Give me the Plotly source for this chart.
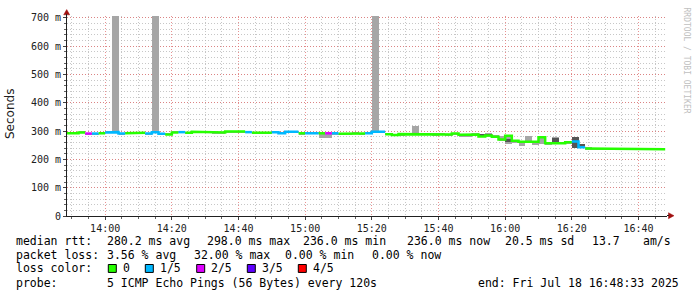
import plotly.graph_objects as go
import pandas as pd

# ---------------- data ----------------
graph_start = "2025-07-18 13:48:33"
graph_end = "2025-07-18 16:48:33"
slot_minutes = 2
slot_starts = pd.date_range("2025-07-18 13:48:00", periods=90, freq="2min")

median_ms = [292, 292, 295, 291, 291, 292, 295, 296, 291, 292,
             292, 294, 291, 296, 290, 288, 295, 296, 294, 297,
             297, 295, 295, 295, 298, 298, 298, 296, 294, 294,
             294, 296, 292, 297, 297, 292, 292, 292, 292, 292,
             292, 290, 290, 292, 291, 292, 297, 297, 289, 286,
             289, 289, 290, 290, 290, 290, 290, 288, 291, 287,
             287, 288, 281, 284, 280, 270, 283, 266, 262, 262,
             262, 278, 257, 257, 257, 260, 263, 243, 238, 238,
             236, 236, 237, 237, 236, 236, 236, 236, 236, 236]

loss_count = [0, 0, 0, 2, 1, 0, 1, 1, 1, 0,
              0, 0, 1, 1, 1, 0, 0, 1, 0, 0,
              0, 0, 0, 0, 0, 0, 0, 1, 0, 0,
              0, 1, 1, 1, 1, 0, 1, 1, 0, 2,
              1, 0, 0, 0, 0, 1, 1, 1, 0, 0,
              0, 0, 0, 0, 0, 0, 0, 0, 0, 0,
              0, 0, 0, 0, 0, 0, 0, 0, 0, 0,
              0, 0, 0, 0, 0, 0, 1, 1, 0, 0,
              0, 0, 0, 0, 0, 0, 0, 0, 0, 0]

smoke_lo = [290, 290, 293, 289, 289, 290, 293, 293, 289, 290,
            290, 292, 289, 293, 288, 286, 293, 294, 292, 295,
            295, 293, 291, 292, 296, 296, 296, 294, 290, 292,
            292, 294, 290, 295, 295, 289, 290, 290, 277, 276,
            289, 288, 288, 290, 289, 290, 294, 294, 287, 284,
            284, 287, 287, 288, 288, 285, 288, 284, 289, 279,
            278, 284, 278, 280, 277, 264, 253, 257, 246, 258,
            251, 255, 254, 254, 254, 255, 242, 240, 235, 236,
            235, 235, 236, 236, 235, 235, 235, 235, 235, 235]

smoke_hi = [294, 294, 297, 293, 293, 294, 297, 706, 293, 294,
            294, 296, 293, 706, 292, 290, 297, 298, 296, 299,
            299, 297, 297, 297, 300, 300, 300, 298, 296, 296,
            296, 298, 294, 299, 299, 294, 294, 294, 294, 294,
            294, 292, 292, 294, 293, 294, 706, 299, 291, 289,
            293, 291, 316, 292, 292, 292, 292, 290, 293, 290,
            290, 294, 286, 293, 287, 282, 286, 270, 266, 282,
            265, 281, 261, 278, 262, 264, 280, 252, 242, 241,
            237, 237, 238, 238, 237, 237, 237, 237, 237, 237]

core_lo = {62: 285, 63: 285, 66: 261, 73: 263, 76: 241, 77: 243}
core_hi = {62: 291, 63: 291, 66: 271, 73: 275, 76: 279, 77: 253}

loss_colors = ["#26ff00", "#00b8ff", "#dd00ff", "#5e00ff", "#ff0000"]
loss_labels = ["0", "1/5", "2/5", "3/5", "4/5"]

y_tickvals = [0, 100, 200, 300, 400, 500, 600, 700]
y_ticktext = ["0", "100 m", "200 m", "300 m", "400 m", "500 m", "600 m", "700 m"]

legend_line1 = [("median rtt:", 16), ("280.2 ms avg", 107.3), ("298.0 ms max", 207.3),
                ("236.0 ms min", 303.3), ("236.0 ms now", 406.7), ("20.5 ms sd", 505),
                ("13.7", 591.7), ("am/s", 643)]
legend_line2 = [("packet loss:", 16), ("3.56 % avg", 107.3), ("32.00 % max", 194),
                ("0.00 % min", 285), ("0.00 % now", 371.7)]
legend_line4 = [("probe:", 16), ("5 ICMP Echo Pings (56 Bytes) every 120s", 107.3),
                ("end: Fri Jul 18 16:48:33 2025", 478.3)]

# ---------------- layout helpers ----------------
W, H = 697, 297
PL, PR, PT, PB = 67, 667, 14, 216


def px(x):
    return (x - PL) / (PR - PL)


def py(y):
    return (PB - y) / (PB - PT)


half = pd.Timedelta(minutes=slot_minutes) / 2
centers = [t + half for t in slot_starts]
step = pd.Timedelta(minutes=slot_minutes)

fig = go.Figure()

# light smoke
fig.add_trace(go.Bar(
    x=centers, base=smoke_lo, y=[h - l for h, l in zip(smoke_hi, smoke_lo)],
    width=step.total_seconds() * 1000, marker=dict(color="#a6a6a6", line=dict(width=0)),
    hoverinfo="skip", showlegend=False))

# dark smoke core
ck = sorted(core_lo)
fig.add_trace(go.Bar(
    x=[centers[k] for k in ck], base=[core_lo[k] for k in ck],
    y=[core_hi[k] - core_lo[k] for k in ck],
    width=step.total_seconds() * 1000, marker=dict(color="#555555", line=dict(width=0)),
    hoverinfo="skip", showlegend=False))

# median line coloured by loss
for lvl, col in enumerate(loss_colors):
    xs, ys = [], []
    prev = False
    for k, (t, m, l) in enumerate(zip(slot_starts, median_ms, loss_count)):
        if l == lvl:
            xs += [t, t + step]
            ys += [m, m]
            prev = True
        elif prev:
            xs.append(None)
            ys.append(None)
            prev = False
    if xs:
        fig.add_trace(go.Scatter(x=xs, y=ys, mode="lines",
                                 line=dict(color=col, width=2.5),
                                 hoverinfo="skip", showlegend=False, connectgaps=False))

grid_major = "rgba(225,110,110,0.75)"
grid_minor = "rgba(175,175,175,0.7)"
mono = "DejaVu Sans Mono"

fig.update_layout(
    width=W, height=H,
    margin=dict(l=PL, r=W - PR, t=PT, b=H - PB, pad=0),
    paper_bgcolor="white", plot_bgcolor="white",
    barmode="overlay", bargap=0,
    showlegend=False,
    xaxis=dict(
        type="date", range=[graph_start, graph_end],
        tickformat="%H:%M", dtick=20 * 60 * 1000, tick0="2025-07-18 14:00:00",
        showgrid=True, gridcolor=grid_major, griddash="1px,2px", gridwidth=1,
        ticks="outside", ticklen=3, tickcolor="#404040",
        showline=True, linecolor="#202020", linewidth=1,
        tickfont=dict(family=mono, size=10, color="#202020"),
        minor=dict(dtick=5 * 60 * 1000, tick0="2025-07-18 14:00:00", showgrid=True,
                   gridcolor=grid_minor, griddash="1px,2px", gridwidth=1,
                   ticks="outside", ticklen=2, tickcolor="#606060"),
        zeroline=False, fixedrange=True,
    ),
    yaxis=dict(
        range=[0, 706], tickmode="array", tickvals=y_tickvals, ticktext=y_ticktext,
        showgrid=True, gridcolor=grid_major, griddash="1px,2px", gridwidth=1,
        ticks="outside", ticklen=3, tickcolor="#404040",
        showline=True, linecolor="#202020", linewidth=1,
        tickfont=dict(family=mono, size=10, color="#202020"),
        minor=dict(dtick=20, tick0=0, showgrid=True, gridcolor=grid_minor,
                   griddash="1px,2px", gridwidth=1, ticks="outside", ticklen=2,
                   tickcolor="#606060"),
        zeroline=False, fixedrange=True,
    ),
)

ann = []
# y title
ann.append(dict(text="Seconds", x=px(10), y=py(113), xref="paper", yref="paper",
                showarrow=False, textangle=-90, font=dict(family="DejaVu Sans", size=12, color="#202020"),
                xanchor="center", yanchor="middle"))
# watermark
ann.append(dict(text="RRDTOOL / TOBI OETIKER", x=px(686), y=py(59), xref="paper", yref="paper",
                showarrow=False, textangle=90, font=dict(family=mono, size=8, color="#c0c0c0"),
                xanchor="center", yanchor="middle"))


def add_line(items, ycen):
    for txt, x in items:
        ann.append(dict(text=txt, x=px(x), y=py(ycen), xref="paper", yref="paper",
                        showarrow=False, xanchor="left", yanchor="middle",
                        borderpad=0, borderwidth=0,
                        font=dict(family=mono, size=11.5, color="#000000")))


add_line(legend_line1, 241.7)
add_line(legend_line2, 255.3)
add_line([("loss color:", 16)], 269)
add_line(legend_line4, 283.3)

box_x = [108.3, 145.3, 196.7, 247.3, 298.3]
lab_x = [123.3, 160, 211.3, 262, 313]
shapes = []
for col, lab, bx, lx in zip(loss_colors, loss_labels, box_x, lab_x):
    shapes.append(dict(type="rect", xref="paper", yref="paper",
                       x0=px(bx), x1=px(bx + 8), y0=py(273), y1=py(265),
                       fillcolor=col, line=dict(color="#000000", width=1)))
    add_line([(lab, lx)], 269)

# axis arrows
arrow_col = "#a01010"
shapes.append(dict(type="path", xref="paper", yref="paper",
                   path=f"M {px(63.7)} {py(12.8)} L {px(69.7)} {py(12.8)} L {px(66.7)} {py(7.5)} Z",
                   fillcolor=arrow_col, line=dict(color=arrow_col, width=0.5)))
shapes.append(dict(type="path", xref="paper", yref="paper",
                   path=f"M {px(668.5)} {py(212.7)} L {px(668.5)} {py(218.7)} L {px(674)} {py(215.7)} Z",
                   fillcolor=arrow_col, line=dict(color=arrow_col, width=0.5)))
# axis line extensions to the arrows
shapes.append(dict(type="line", xref="paper", yref="paper",
                   x0=px(66.5), x1=px(66.5), y0=py(PT), y1=py(12), line=dict(color="#202020", width=1)))
shapes.append(dict(type="line", xref="paper", yref="paper",
                   x0=px(PR), x1=px(669), y0=py(215.5), y1=py(215.5), line=dict(color="#202020", width=1)))

fig.update_layout(annotations=ann, shapes=shapes)

fig.write_html("out.html")
